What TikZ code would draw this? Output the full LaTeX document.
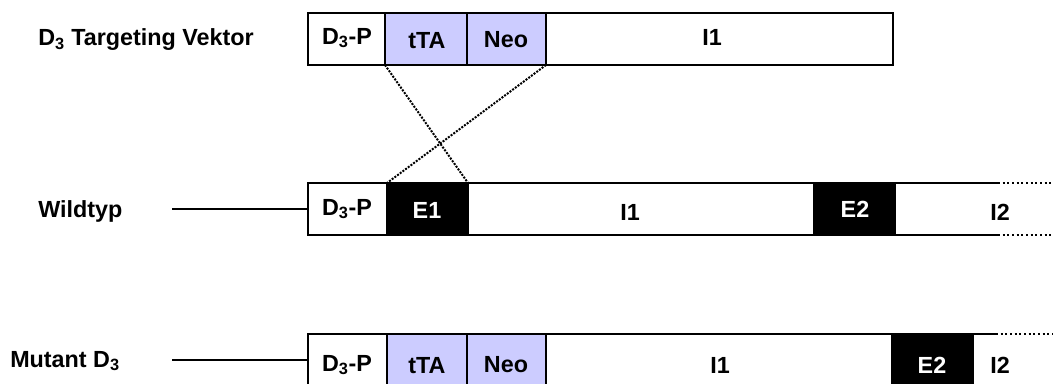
\documentclass[tikz,border=0pt]{standalone}
\usepackage{fontspec}
\setmainfont{Liberation Sans}
\definecolor{lav}{HTML}{CCCCFF}
\begin{document}
\begin{tikzpicture}[x=0.75pt,y=-0.75pt,
  lbl/.style={font=\bfseries\fontsize{17.5}{20}\selectfont, inner sep=0pt},
  seg/.style={draw=black, line width=1.5pt, minimum width=#1*0.75pt, minimum height=52*0.75pt,
    inner sep=0pt, outer sep=0pt, anchor=west, font=\bfseries\fontsize{17.5}{20}\selectfont},
  tet/.style={fill=lav},
  exon/.style={fill=black, text=white},
  open/.style={draw=none, minimum width=#1*0.75pt, minimum height=52*0.75pt, inner sep=0pt, outer sep=0pt, anchor=west},
  thinline/.style={line width=1pt},
  edge/.style={line width=1.5pt},
  dots/.style={line width=1.5pt, dotted},
  cross/.style={line width=1.5pt, densely dotted}]
\useasboundingbox (0,0) rectangle (1053,383);
\clip (0,0) rectangle (1053,383);
% ---- row 1: targeting vector
\node[lbl, anchor=west] (t1) at (38,40) {D\textsubscript{3} Targeting Vektor};
\node[seg=77] (vP) at (308,39) {};
\node[lbl] (vPt) at (347,38) {D\textsubscript{3}-P};
\node[seg=82, tet] (vT) at (vP.east) {};
\node[lbl] (vTt) at (427,41) {tTA};
\node[seg=79, tet] (vN) at (vT.east) {};
\node[lbl] (vNt) at (506,40) {Neo};
\node[seg=347] (vI) at (vN.east) {};
\node[lbl] (vIt) at (712,37) {I1};
% ---- row 2: wild type
\node[lbl, anchor=west] (t2) at (38,211) {Wildtyp};
\coordinate (w0) at (172,209);
\node[seg=79] (wP) at (308,209) {};
\node[lbl] (wPt) at (347,209) {D\textsubscript{3}-P};
\node[seg=81, exon] (wE1) at (wP.east) {};
\node[lbl, text=white] (wE1t) at (427,210) {E1};
\node[seg=346] (wI1) at (wE1.east) {};
\node[lbl] (wI1t) at (630,212) {I1};
\node[seg=81, exon] (wE2) at (wI1.east) {};
\node[lbl, text=white] (wE2t) at (855,209) {E2};
\node[open=158] (wI2) at (wE2.east) {};
\node[lbl] (wI2t) at (1000,212) {I2};
\coordinate (wa) at (998,183);
\coordinate (wb) at (998,235);
\draw[thinline] (w0) -- (wP.west);
\draw[edge] (wI2.north west) -- (wa);
\draw[edge] (wI2.south west) -- (wb);
\draw[dots] (wa) -- (wI2.north east);
\draw[dots] (wb) -- (wI2.south east);
% ---- crossover lines
\draw[cross] (vT.south west) -- (wE1.north east);
\draw[cross] (vN.south east) -- (wE1.north west);
% ---- row 3: mutant
\node[lbl, anchor=west] (t3) at (10,361) {Mutant D\textsubscript{3}};
\coordinate (m0) at (172,360);
\node[seg=79] (mP) at (308,360) {};
\node[lbl] (mPt) at (347,365) {D\textsubscript{3}-P};
\node[seg=80, tet] (mT) at (mP.east) {};
\node[lbl] (mTt) at (427,366) {tTA};
\node[seg=79, tet] (mN) at (mT.east) {};
\node[lbl] (mNt) at (506,365) {Neo};
\node[seg=346] (mI1) at (mN.east) {};
\node[lbl] (mI1t) at (720,365) {I1};
\node[seg=81, exon] (mE2) at (mI1.east) {};
\node[lbl, text=white] (mE2t) at (932,365) {E2};
\node[open=80] (mI2) at (mE2.east) {};
\node[lbl] (mI2t) at (1000,365) {I2};
\coordinate (ma) at (996,334);
\draw[thinline] (m0) -- (mP.west);
\draw[edge] (mI2.north west) -- (ma);
\draw[dots] (ma) -- (mI2.north east);
\end{tikzpicture}
\end{document}
